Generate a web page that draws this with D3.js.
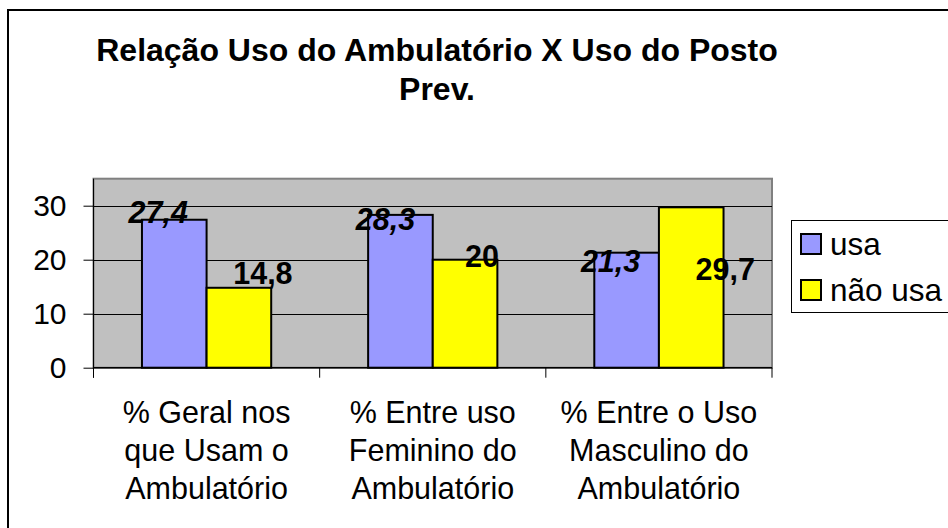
<!DOCTYPE html>
<html>
<head>
<meta charset="utf-8">
<script src="https://cdn.jsdelivr.net/npm/d3@7"></script>
<style>
  body { margin: 0; background: #fff; }
  svg { display: block; font-family: "Liberation Sans", Arial, sans-serif; }
</style>
</head>
<body>
<div id="chart"></div>
<script>
// chart data
const categories = [
    ["% Geral nos", "que Usam o", "Ambulatório"],
    ["% Entre uso", "Feminino do", "Ambulatório"],
    ["% Entre o Uso", "Masculino do", "Ambulatório"]
];
const seriesNames = ["usa", "não usa"];
const usaValues = [27.4, 28.3, 21.3];
const naoUsaValues = [14.8, 20, 29.7];
const yTicks = [0, 10, 20, 30];
const titleLines = ["Relação Uso do Ambulatório X Uso do Posto", "Prev."];

// label nudges (dx, dy from top-centre of bar) – labels were moved by hand in the original
const labelNudge = [
    [[-16, 3], [24, -4]],
    [[-15, 15], [17, 7]],
    [[-16, 19], [34, 73]]
];

const width = 948;
const height = 528;
const colors = ["#9999FF", "#FFFF00"];

const svg = d3.select("#chart")
    .append("svg")
    .attr("width", width)
    .attr("height", height);

// outer chart border
svg.append("rect")
    .attr("x", 8).attr("y", 10)
    .attr("width", 980).attr("height", 600)
    .attr("fill", "#fff")
    .attr("stroke", "#000")
    .attr("stroke-width", 2);

// plot area
const plot = { left: 93.5, right: 772, top: 178.7, bottom: 367.7 };

const x0 = d3.scaleBand()
    .domain(d3.range(categories.length))
    .range([plot.left, plot.right])
    .padding(0);

const x1 = d3.scaleBand()
    .domain(seriesNames)
    .range([0, x0.bandwidth()])
    .paddingInner(0)
    .paddingOuter(0.75);

const y = d3.scaleLinear()
    .domain([0, 35])
    .range([plot.bottom, plot.top]);

svg.append("rect")
    .attr("x", plot.left).attr("y", plot.top)
    .attr("width", plot.right - plot.left)
    .attr("height", plot.bottom - plot.top)
    .attr("fill", "#C0C0C0")
    .attr("stroke", "#808080")
    .attr("stroke-width", 2);

// gridlines
svg.append("g")
    .selectAll("line")
    .data(yTicks.filter(d => d > 0))
    .enter()
    .append("line")
    .attr("x1", plot.left).attr("x2", plot.right)
    .attr("y1", d => Math.round(y(d)) + 0.5)
    .attr("y2", d => Math.round(y(d)) + 0.5)
    .attr("stroke", "#000")
    .attr("stroke-width", 1);

// y axis
const yAxis = d3.axisLeft(y)
    .tickValues(yTicks)
    .tickSize(10)
    .tickPadding(17)
    .tickFormat(d3.format("d"));

const gy = svg.append("g")
    .attr("transform", `translate(${plot.left},0)`)
    .call(yAxis);
gy.select(".domain").remove();
gy.selectAll(".tick line").attr("stroke", "#000");
gy.selectAll(".tick text")
    .attr("font-size", 30)
    .attr("font-family", "Liberation Sans, Arial, sans-serif")
    .attr("fill", "#000");

svg.append("line")
    .attr("x1", plot.left).attr("x2", plot.left)
    .attr("y1", plot.top).attr("y2", plot.bottom + 10)
    .attr("stroke", "#000");

// bars
const groups = svg.append("g")
    .selectAll("g")
    .data(categories.map((c, i) => ({ i, values: [usaValues[i], naoUsaValues[i]] })))
    .enter()
    .append("g")
    .attr("transform", d => `translate(${x0(d.i)},0)`);

groups.selectAll("rect")
    .data(d => d.values.map((v, k) => ({ v, k, i: d.i })))
    .enter()
    .append("rect")
    .attr("x", d => x1(seriesNames[d.k]))
    .attr("y", d => y(d.v))
    .attr("width", x1.bandwidth())
    .attr("height", d => y(0) - y(d.v))
    .attr("fill", d => colors[d.k])
    .attr("stroke", "#000")
    .attr("stroke-width", 2);

// x axis line and ticks
svg.append("line")
    .attr("x1", plot.left).attr("x2", plot.right)
    .attr("y1", plot.bottom).attr("y2", plot.bottom)
    .attr("stroke", "#000")
    .attr("stroke-width", 1.5);

svg.append("g")
    .selectAll("line")
    .data(d3.range(categories.length + 1))
    .enter()
    .append("line")
    .attr("x1", d => plot.left + d * x0.step())
    .attr("x2", d => plot.left + d * x0.step())
    .attr("y1", plot.bottom)
    .attr("y2", plot.bottom + 10)
    .attr("stroke", "#000");

// data labels
groups.selectAll("text.val")
    .data(d => d.values.map((v, k) => ({ v, k, i: d.i })))
    .enter()
    .append("text")
    .attr("class", "val")
    .attr("x", d => x1(seriesNames[d.k]) + x1.bandwidth() / 2 + labelNudge[d.i][d.k][0])
    .attr("y", d => y(d.v) + labelNudge[d.i][d.k][1])
    .attr("text-anchor", "middle")
    .attr("font-size", 30.5)
    .attr("font-weight", "bold")
    .attr("font-style", d => d.k === 0 ? "italic" : "normal")
    .text(d => String(d.v).replace(".", ","));

// category labels
const catText = svg.append("g")
    .selectAll("text")
    .data(categories)
    .enter()
    .append("text")
    .attr("x", (d, i) => x0(i) + x0.bandwidth() / 2)
    .attr("y", 422.5)
    .attr("text-anchor", "middle")
    .attr("font-size", 30.5);

catText.selectAll("tspan")
    .data(d => d)
    .enter()
    .append("tspan")
    .attr("x", function () { return d3.select(this.parentNode).attr("x"); })
    .attr("dy", (d, i) => i === 0 ? 0 : 38.3)
    .text(d => d);

// title
svg.append("g")
    .selectAll("text")
    .data(titleLines)
    .enter()
    .append("text")
    .attr("x", 437)
    .attr("y", (d, i) => 61 + i * 39)
    .attr("text-anchor", "middle")
    .attr("font-size", 32)
    .attr("font-weight", "bold")
    .text(d => d);

// legend
const legend = svg.append("g");
legend.append("rect")
    .attr("x", 791.5).attr("y", 220.5)
    .attr("width", 200).attr("height", 92)
    .attr("fill", "#fff")
    .attr("stroke", "#000");

const items = legend.selectAll("g")
    .data(seriesNames)
    .enter()
    .append("g")
    .attr("transform", (d, i) => `translate(801,${234 + i * 46})`);

items.append("rect")
    .attr("width", 20).attr("height", 20)
    .attr("fill", (d, i) => colors[i])
    .attr("stroke", "#000")
    .attr("stroke-width", 2);

items.append("text")
    .attr("x", 29)
    .attr("y", 21)
    .attr("font-size", 31.5)
    .text(d => d);
</script>
</body>
</html>
